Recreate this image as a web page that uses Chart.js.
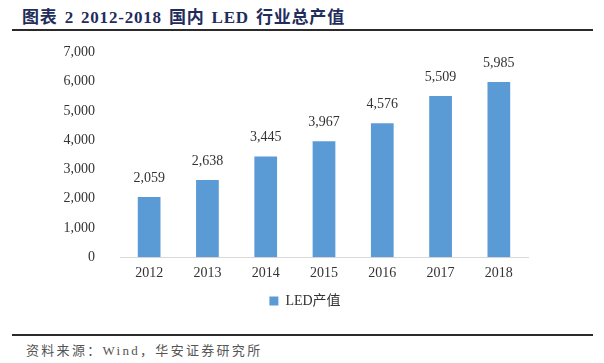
<!DOCTYPE html>
<html>
<head>
<meta charset="utf-8">
<script src="https://cdn.jsdelivr.net/npm/chart.js@4"></script>
<style>
    body { margin: 0; width: 604px; height: 363px; background: #fff; position: relative; overflow: hidden; }
    .title {
        position: absolute; left: 22px; top: 3px;
        font: bold 17px "Liberation Serif", "Noto Sans CJK SC", serif;
        color: #1f2d5c; letter-spacing: 0.8px; word-spacing: 2px;
    }
    .rule { position: absolute; left: 12px; width: 581px; height: 2px; background: #2a2a2a; }
    .source {
        position: absolute; left: 26px; top: 340px;
        font: 13px "Liberation Serif", "Noto Sans CJK SC", serif;
        color: #555; letter-spacing: 2.3px;
    }
    .chart-box { position: absolute; left: 0; top: 27px; width: 604px; height: 293px; }
</style>
</head>
<body>
<div class="title">图表 2 2012-2018 国内 LED 行业总产值</div>
<div class="rule" style="top: 29px;"></div>
<div class="chart-box"><canvas id="ledChart"></canvas></div>
<div class="rule" style="top: 334px;"></div>
<div class="source">资料来源：Wind，华安证券研究所</div>

<script>
// Chart data
const years = ['2012', '2013', '2014', '2015', '2016', '2017', '2018'];
const ledOutput = [2059, 2638, 3445, 3967, 4576, 5509, 5985];
const yTicks = [0, 1000, 2000, 3000, 4000, 5000, 6000, 7000];

const serif = '"Liberation Serif", "Noto Sans CJK SC", serif';

/**
 * Draw value labels above each bar
 */
const barValueLabels = {
    id: 'barValueLabels',
    afterDatasetsDraw(chart) {
        const ctx = chart.ctx;
        const meta = chart.getDatasetMeta(0);
        ctx.save();
        ctx.font = '14px ' + serif;
        ctx.fillStyle = '#333';
        ctx.textAlign = 'center';
        ctx.textBaseline = 'bottom';
        meta.data.forEach((bar, i) => {
            ctx.fillText(ledOutput[i].toLocaleString('en-US'), bar.x, bar.y - 12);
        });
        ctx.restore();
    }
};

/**
 * The original legend sits a bit right of the plot centre
 */
const shiftLegend = {
    id: 'shiftLegend',
    afterLayout(chart) {
        if (chart.legend) chart.legend.left = 82;
    }
};

new Chart(document.getElementById('ledChart'), {
    type: 'bar',
    data: {
        labels: years,
        datasets: [{
            label: 'LED产值',
            data: ledOutput,
            backgroundColor: '#5b9bd5',
            categoryPercentage: 1,
            barPercentage: 0.39
        }]
    },
    options: {
        responsive: true,
        maintainAspectRatio: false,
        animation: false,
        layout: {
            padding: { top: 0, right: 76, left: 0, bottom: 2 }
        },
        plugins: {
            legend: {
                position: 'bottom',
                labels: {
                    boxWidth: 9,
                    boxHeight: 9,
                    padding: 12,
                    color: '#333',
                    font: { family: serif, size: 14 }
                }
            },
            tooltip: { enabled: false }
        },
        scales: {
            y: {
                min: 0,
                max: 7000,
                afterBuildTicks: (scale) => {
                    scale.ticks = yTicks.map(v => ({ value: v }));
                },
                afterFit: (scale) => { scale.width = 120; },
                border: { display: false },
                grid: { display: false },
                ticks: {
                    color: '#333',
                    padding: 17,
                    font: { family: serif, size: 14 },
                    callback: (v) => v.toLocaleString('en-US')
                }
            },
            x: {
                border: { display: true, color: '#d9d9d9', width: 1 },
                grid: { display: false },
                ticks: {
                    color: '#333',
                    padding: 0,
                    font: { family: serif, size: 14 }
                }
            }
        }
    },
    plugins: [barValueLabels, shiftLegend]
});
</script>
</body>
</html>
